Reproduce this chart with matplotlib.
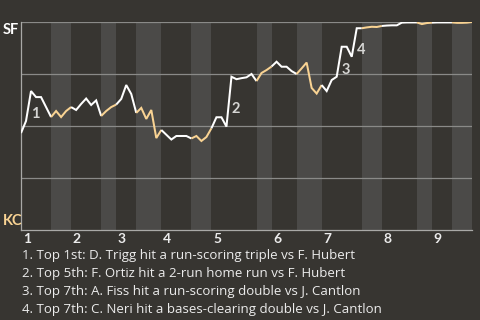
import matplotlib
matplotlib.use("Agg")
import matplotlib.pyplot as plt
from matplotlib.transforms import blended_transform_factory, offset_copy

# ---- data -------------------------------------------------------------
away_team = "SF"
home_team = "KC"
inning_labels = ["1", "2", "3", "4", "5", "6", "7", "8", "9"]

# SF win probability before the first pitch
start_wp = 0.466

# SF win probability after each plate appearance, per half inning
top_half = [
    [0.524, 0.668, 0.639, 0.639, 0.591, 0.543],
    [0.577, 0.606, 0.632, 0.601, 0.623, 0.548],
    [0.630, 0.697, 0.654, 0.563],
    [0.458, 0.435, 0.452, 0.452, 0.452, 0.440],
    [0.542, 0.542, 0.497, 0.737, 0.725, 0.730, 0.734, 0.750, 0.716],
    [0.809, 0.785, 0.785, 0.764, 0.750],
    [0.668, 0.721, 0.737, 0.881, 0.881, 0.833, 0.970, 0.970],
    [0.983, 0.984, 0.984, 0.997, 0.998, 0.998, 0.998],
    [0.998, 0.998, 0.998, 0.998],
]
bottom_half = [
    [0.572, 0.543, 0.572, 0.591],
    [0.572, 0.591, 0.603],
    [0.587, 0.534, 0.577, 0.442, 0.481],
    [0.452, 0.428, 0.447, 0.489],
    [0.755, 0.769, 0.786],
    [0.777, 0.805, 0.683, 0.656, 0.697],
    [0.974, 0.977, 0.976, 0.981],
    [0.990, 0.995, 0.997],
    [0.996, 0.996, 0.997, 1.000],
]

# key plays: (inning, plate appearance within the top half)
key_plays = [(1, 2), (5, 4), (7, 4), (7, 7)]
key_notes = [
    "Top 1st: D. Trigg hit a run-scoring triple vs F. Hubert",
    "Top 5th: F. Ortiz hit a 2-run home run vs F. Hubert",
    "Top 7th: A. Fiss hit a run-scoring double vs J. Cantlon",
    "Top 7th: C. Neri hit a bases-clearing double vs J. Cantlon",
]

# ---- style ------------------------------------------------------------
BG = "#373531"
BAND = "#4b4a48"
GRID = "#8a8a88"
SPINE = "#a9a9a7"
AWAY_COLOR = "#ffffff"
HOME_COLOR = "#f9d393"
TEXT = "#ececec"
FONT = ["Open Sans", "DejaVu Sans"]
BOLD_FONT = ["Lato", "DejaVu Sans"]

fig = plt.figure(figsize=(4.8, 3.2), dpi=100, facecolor=BG)
ax = fig.add_axes([21 / 480, 90 / 320, 451 / 480, 208 / 320])
ax.set_facecolor(BG)

# ---- build the win-probability path, half inning by half inning --------
x_last, y_last = 0, start_wp
inning_starts = []
top_starts = []
for inn in range(9):
    for half, values, color in (("top", top_half[inn], AWAY_COLOR),
                                ("bot", bottom_half[inn], HOME_COLOR)):
        x0 = x_last
        if half == "top":
            inning_starts.append(x0)
            top_starts.append(x0)
        xs = [x0] + [x0 + k + 1 for k in range(len(values))]
        ys = [y_last] + list(values)
        if half == "bot":
            ax.axvspan(x0, xs[-1], color=BAND, lw=0, zorder=0)
        ax.plot(xs, ys, color=color, lw=1.45, zorder=3,
                solid_joinstyle="miter", solid_capstyle="butt")
        x_last, y_last = xs[-1], ys[-1]

total = x_last
ax.set_xlim(0, total)
ax.set_ylim(0, 1)

for g in (0.25, 0.5, 0.75, 1.0):
    ax.axhline(g, color=GRID, lw=0.9, zorder=1)

for side in ("top", "right"):
    ax.spines[side].set_visible(False)
for side in ("left", "bottom"):
    ax.spines[side].set_color(SPINE)
    ax.spines[side].set_linewidth(0.9)
    ax.spines[side].set_zorder(2)
ax.set_xticks([])
ax.set_yticks([])

# inning numbers along the bottom, aligned to the start of each inning
tick_tf = offset_copy(blended_transform_factory(ax.transData, ax.transAxes),
                      fig=fig, x=1.2, y=-2.2, units="points")
for xs, lab in zip(inning_starts, inning_labels):
    ax.text(xs, 0, lab, transform=tick_tf, ha="left", va="top",
            color=TEXT, fontsize=10, fontweight="bold", family=BOLD_FONT)

# team labels on the left edge
fig.text(2.5 / 480, 1 - 29.5 / 320, away_team, ha="left", va="center",
         color=AWAY_COLOR, fontsize=10.5, fontweight="bold", family=BOLD_FONT)
fig.text(2.5 / 480, 1 - 221 / 320, home_team, ha="left", va="center",
         color=HOME_COLOR, fontsize=10.5, fontweight="bold", family=BOLD_FONT)

# numbered markers next to the key plays
marker_offsets = [(0.3, -16.5), (0.3, -23.0), (-0.3, -16.5), (0.3, -15.8)]
for i, ((inn, pa), (dx, dy)) in enumerate(zip(key_plays, marker_offsets)):
    px = top_starts[inn - 1] + pa
    py = top_half[inn - 1][pa - 1]
    ax.annotate(str(i + 1), xy=(px, py), xytext=(dx, dy),
                textcoords="offset points", ha="left", va="center",
                color="#d6d6d4", fontsize=10.5, fontweight="bold",
                family=BOLD_FONT, zorder=4)

# footnotes describing the key plays
lines = [f"{i + 1}. {note}" for i, note in enumerate(key_notes)]
base_fs = 9.0
texts = []
for i, line in enumerate(lines):
    t = fig.text(22.5 / 480, 1 - (258.7 + 18 * i) / 320, line,
                 ha="left", va="baseline", color=TEXT,
                 fontsize=base_fs, family=FONT)
    texts.append(t)
renderer = fig.canvas.get_renderer()
w0 = texts[0].get_window_extent(renderer).width
fs = base_fs * 334 / w0
for t in texts:
    t.set_fontsize(fs)

fig.savefig("out.png", dpi=100, facecolor=BG)
